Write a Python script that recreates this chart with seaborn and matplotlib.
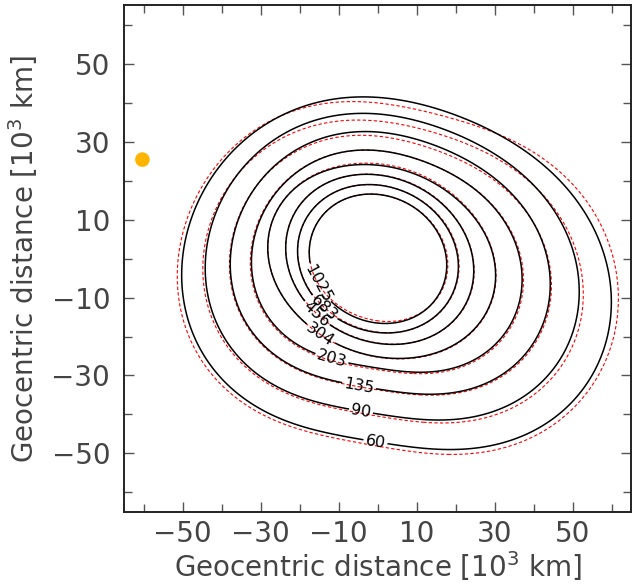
import numpy as np
import matplotlib
matplotlib.use('Agg')
import matplotlib.pyplot as plt
import seaborn as sns

# contour levels and the label text shown on the chart
levels = [60, 90, 135, 203, 304, 456, 683, 1025]
level_labels = ['60', '90', '135', '203', '304', '456', '683', '1025']

# centre of each contour (data units, 10^3 km)
centre_x = [4.0, 3.0, 2.6, 1.8, 1.05, 0.55, 0.1, 0.1]
centre_y = [-4.0, -2.3, -1.3, -0.8, -0.75, -0.2, -0.05, -0.05]

# radius of each contour seen from its centre, every 22.5 deg starting east,
# counter-clockwise
r60_black = [55.0, 50.5, 46.3, 43.8, 44.5, 48.5, 51.1, 52.5, 54.8, 53.2, 47.6, 45.0, 43.6, 48.1, 55.0, 57.5]
r90_black = [47.9, 44.0, 40.3, 38.1, 38.7, 42.2, 44.5, 45.7, 47.7, 46.3, 41.4, 39.2, 37.9, 41.8, 47.9, 50.0]
r135_black = [41.0, 37.6, 34.5, 32.6, 33.2, 36.1, 38.1, 39.1, 40.8, 39.6, 35.5, 33.5, 32.5, 35.8, 41.0, 42.8]
r203_black = [34.7, 31.8, 29.2, 27.6, 28.0, 30.6, 32.2, 33.1, 34.5, 33.5, 30.0, 28.4, 27.5, 30.3, 34.7, 36.2]
r304_black = [28.9, 26.6, 24.7, 24.0, 24.6, 26.4, 28.7, 29.9, 28.9, 26.6, 24.7, 24.0, 24.6, 26.4, 28.7, 29.9]
r456_black = [23.9, 22.4, 21.3, 21.0, 21.6, 23.0, 24.4, 24.8, 23.9, 22.4, 21.3, 21.0, 21.6, 23.0, 24.4, 24.8]
r683_black = [20.5, 19.5, 18.7, 18.5, 18.9, 19.9, 20.8, 21.1, 20.5, 19.5, 18.7, 18.5, 18.9, 19.9, 20.8, 21.1]
r1025_black = [17.5, 16.8, 16.2, 16.1, 16.5, 17.3, 17.9, 18.1, 17.5, 16.8, 16.2, 16.1, 16.5, 17.3, 17.9, 18.1]

r60_red = [57.0, 52.5, 47.2, 42.3, 43.5, 47.5, 51.5, 53.5, 56.0, 54.2, 48.8, 46.0, 44.5, 49.5, 56.5, 58.8]
r90_red = [48.7, 44.4, 39.5, 36.6, 36.9, 40.7, 44.0, 46.0, 48.3, 46.9, 41.9, 39.7, 38.5, 42.6, 49.1, 51.2]
r135_red = [41.3, 37.5, 33.8, 31.6, 32.1, 35.3, 37.9, 39.2, 41.0, 39.8, 35.8, 33.7, 32.7, 36.1, 41.4, 43.1]
r203_red = [35.0, 32.0, 29.2, 27.6, 28.0, 30.6, 32.3, 33.3, 34.8, 33.8, 30.4, 28.8, 27.9, 30.7, 35.1, 36.6]
r304_red = [29.0, 26.8, 25.0, 24.4, 25.0, 26.7, 28.8, 29.9, 28.9, 26.6, 24.7, 24.1, 24.7, 26.5, 28.9, 30.0]
r456_red = [24.0, 22.5, 21.4, 21.1, 21.7, 23.0, 24.4, 24.9, 23.9, 22.3, 21.2, 20.9, 21.5, 23.0, 24.5, 24.9]
r683_red = [20.7, 19.7, 18.8, 18.5, 18.9, 19.9, 20.8, 21.1, 20.5, 19.4, 18.5, 18.3, 18.8, 19.9, 20.9, 21.2]
r1025_red = [17.8, 17.0, 16.3, 16.1, 16.5, 17.3, 17.9, 18.1, 17.5, 16.6, 15.8, 15.5, 15.9, 17.0, 17.9, 18.3]

black_radii = [r60_black, r90_black, r135_black, r203_black,
               r304_black, r456_black, r683_black, r1025_black]
red_radii = [r60_red, r90_red, r135_red, r203_red,
             r304_red, r456_red, r683_red, r1025_red]

# where the contour labels sit (data coords)
label_x = [-0.3, -4.1, -4.6, -11.6, -14.9, -16.2, -13.7, -15.5]
label_y = [-45.5, -38.3, -31.9, -25.2, -19.8, -14.7, -12.6, -6.5]

# the orange marker
dot_x = [-60.3]
dot_y = [25.4]

grid = np.linspace(-65, 65, 521)
X, Y = np.meshgrid(grid, grid)


def radius_curve(samples, theta, kmax=4):
    # smooth periodic curve through the sampled radii (low-order Fourier series)
    r = np.asarray(samples, dtype=float)
    c = np.fft.rfft(r) / len(r)
    out = np.full(theta.shape, c[0].real)
    for k in range(1, kmax + 1):
        out += 2 * (c[k].real * np.cos(k * theta) - c[k].imag * np.sin(k * theta))
    return out


def shape_field(i, samples):
    dx, dy = X - centre_x[i], Y - centre_y[i]
    theta = np.arctan2(dy, dx)
    return np.hypot(dx, dy) / radius_curve(samples, theta)


sns.set_style('ticks')
plt.rcParams['font.family'] = ['DejaVu Sans']
plt.rcParams['mathtext.fontset'] = 'dejavusans'

fig = plt.figure(figsize=(6.33, 5.85), dpi=100)
ax = fig.add_axes([0.196, 0.125, 0.801, 0.866])

for i in range(len(levels)):
    ax.contour(X, Y, shape_field(i, red_radii[i]), levels=[1.0], colors='red',
               linewidths=0.8, linestyles=[(0, (3, 2))])

for i in range(len(levels)):
    cs = ax.contour(X, Y, shape_field(i, black_radii[i]), levels=[1.0],
                    colors='black', linewidths=1.1)
    ax.clabel(cs, fmt={1.0: level_labels[i]}, manual=[(label_x[i], label_y[i])],
              inline=True, inline_spacing=2, fontsize=11.5)

sns.scatterplot(x=dot_x, y=dot_y, color='#ffb400', s=110, edgecolor='none', ax=ax, zorder=5)

ax.set_xlim(-65, 65)
ax.set_ylim(-65, 65)
ticks = [-50, -30, -10, 10, 30, 50]
ax.set_xticks(ticks)
ax.set_yticks(ticks)
ax.set_xticks([-60, -40, -20, 0, 20, 40, 60], minor=True)
ax.set_yticks([-60, -40, -20, 0, 20, 40, 60], minor=True)
ax.tick_params(which='both', direction='in', top=True, right=True, color='#555555',
               labelsize=20, labelcolor='#444444', width=1)
ax.tick_params(which='major', length=7)
ax.tick_params(which='minor', length=6)
ax.tick_params(axis='x', pad=6)
ax.tick_params(axis='y', pad=10)
for s in ax.spines.values():
    s.set_linewidth(1.4)
    s.set_color('#222222')

ax.set_xlabel(r'Geocentric distance [10$^3$ km]', fontsize=20, color='#444444', labelpad=1)
ax.set_ylabel(r'Geocentric distance [10$^3$ km]', fontsize=20, color='#444444', labelpad=8)

fig.savefig('out.png', dpi=100)
